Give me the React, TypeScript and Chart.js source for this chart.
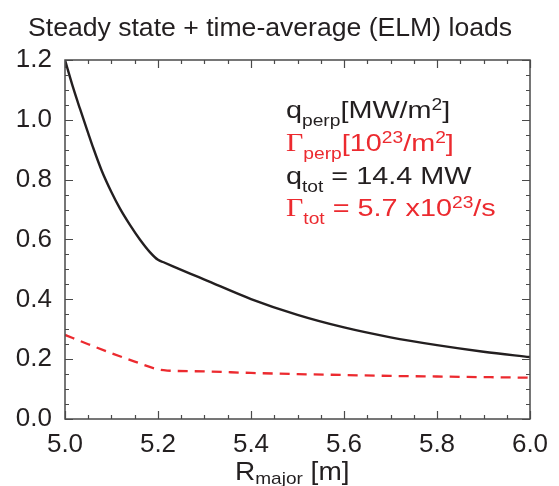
import React, { useEffect, useRef } from "react";
import { Chart, registerables } from "chart.js";

Chart.register(...registerables);

// ---------- data ----------
const TITLE = "Steady state + time-average (ELM) loads";

// black solid: q_perp [MW/m^2]
const rMajorQ = [5.0, 5.018, 5.032, 5.05, 5.061, 5.079, 5.1, 5.118, 5.14, 5.161, 5.183, 5.2, 5.212, 5.269, 5.3, 5.4, 5.5, 5.6, 5.7, 5.8, 5.9, 6.0];
const qPerp = [1.2, 1.105, 1.038, 0.955, 0.905, 0.83, 0.758, 0.704, 0.648, 0.6, 0.557, 0.532, 0.524, 0.486, 0.466, 0.401, 0.348, 0.306, 0.273, 0.247, 0.225, 0.207];

// red dashed: Gamma_perp [10^23/m^2]
const rMajorG = [5.0, 5.05, 5.1, 5.15, 5.2, 5.22, 5.3, 5.4, 5.5, 5.6, 5.7, 5.8, 5.9, 6.0];
const gammaPerp = [0.281, 0.25, 0.22, 0.192, 0.166, 0.162, 0.159, 0.154, 0.15, 0.147, 0.144, 0.142, 0.14, 0.138];

const X_MIN = 5.0;
const X_MAX = 6.0;
const Y_MIN = 0.0;
const Y_MAX = 1.2;
const MAJOR_STEP = 0.2;
const MINOR_STEP = 0.05;

const X_LABEL_MAIN = "R";
const X_LABEL_SUB = "major";
const X_LABEL_TAIL = " [m]";

// ---------- styles ----------
const INK = "#231f20";
const RED = "#ec2a2f";
const FRAME = "#4a4a4a";
const SANS = "'Liberation Sans', Arial, Helvetica, sans-serif";
const SERIF = "'Liberation Serif', 'Times New Roman', serif";

type Seg = { t: string; size: number; dy?: number; family?: string };

function drawRich(
  ctx: CanvasRenderingContext2D,
  x: number,
  y: number,
  segs: Seg[],
  color: string,
  sx: number = 1
) {
  ctx.save();
  ctx.translate(x, y);
  ctx.scale(sx, 1);
  ctx.fillStyle = color;
  ctx.textAlign = "left";
  ctx.textBaseline = "alphabetic";
  let cx = 0;
  for (const s of segs) {
    ctx.font = `${s.size}px ${s.family || SANS}`;
    ctx.fillText(s.t, cx, s.dy || 0);
    cx += ctx.measureText(s.t).width;
  }
  ctx.restore();
}

const F = 26; // tick font
const LF = 24; // legend main font
const LS = 16; // legend sub/sup font
const LSX = 1.2; // legend horizontal stretch

const decorPlugin = {
  id: "decor",
  afterDraw(chart: any) {
    const ctx: CanvasRenderingContext2D = chart.ctx;
    const { left, right, top, bottom } = chart.chartArea;
    const xs = chart.scales.x;
    const ys = chart.scales.y;

    // frame
    ctx.save();
    ctx.strokeStyle = FRAME;
    ctx.lineWidth = 1.5;
    ctx.strokeRect(left, top, right - left, bottom - top);

    // inward ticks on all four sides
    ctx.lineWidth = 1.2;
    const per = Math.round(MAJOR_STEP / MINOR_STEP);
    const nx = Math.round((X_MAX - X_MIN) / MINOR_STEP);
    for (let i = 0; i <= nx; i++) {
      const v = X_MIN + i * MINOR_STEP;
      const px = Math.round(xs.getPixelForValue(v)) + 0.5;
      const len = i % per === 0 ? 8 : 4;
      ctx.beginPath();
      ctx.moveTo(px, bottom);
      ctx.lineTo(px, bottom - len);
      ctx.moveTo(px, top);
      ctx.lineTo(px, top + len);
      ctx.stroke();
    }
    const ny = Math.round((Y_MAX - Y_MIN) / MINOR_STEP);
    for (let i = 0; i <= ny; i++) {
      const v = Y_MIN + i * MINOR_STEP;
      const py = Math.round(ys.getPixelForValue(v)) + 0.5;
      const len = i % per === 0 ? 8 : 4;
      ctx.beginPath();
      ctx.moveTo(left, py);
      ctx.lineTo(left + len, py);
      ctx.moveTo(right, py);
      ctx.lineTo(right - len, py);
      ctx.stroke();
    }
    ctx.restore();

    // title
    ctx.save();
    ctx.fillStyle = INK;
    ctx.font = `26.6px ${SANS}`;
    ctx.textAlign = "left";
    ctx.textBaseline = "alphabetic";
    ctx.fillText(TITLE, 28, 36);
    ctx.restore();

    // x axis title with subscript
    drawRich(
      ctx,
      235,
      480,
      [
        { t: X_LABEL_MAIN, size: 25 },
        { t: X_LABEL_SUB, size: 17, dy: 4 },
        { t: X_LABEL_TAIL, size: 25 },
      ],
      INK,
      1.12
    );

    // in-plot annotations
    const lx = 286;
    drawRich(
      ctx,
      lx,
      118,
      [
        { t: "q", size: LF },
        { t: "perp", size: LS, dy: 8 },
        { t: "[MW/m", size: LF },
        { t: "2", size: LS, dy: -8 },
        { t: "]", size: LF },
      ],
      INK,
      LSX
    );
    drawRich(
      ctx,
      lx,
      151,
      [
        { t: "\u0393", size: LF + 1, family: SERIF },
        { t: "perp", size: LS, dy: 8 },
        { t: "[10", size: LF },
        { t: "23", size: LS, dy: -8 },
        { t: "/m", size: LF },
        { t: "2", size: LS, dy: -8 },
        { t: "]", size: LF },
      ],
      RED,
      LSX
    );
    drawRich(
      ctx,
      lx,
      184,
      [
        { t: "q", size: LF },
        { t: "tot", size: LS, dy: 8 },
        { t: " = 14.4 MW", size: LF },
      ],
      INK,
      LSX
    );
    drawRich(
      ctx,
      lx,
      216,
      [
        { t: "\u0393", size: LF + 1, family: SERIF },
        { t: "tot", size: LS, dy: 8 },
        { t: " = 5.7 x10", size: LF },
        { t: "23", size: LS, dy: -8 },
        { t: "/s", size: LF },
      ],
      RED,
      LSX
    );
  },
};

export default function App() {
  const ref = useRef<HTMLCanvasElement | null>(null);

  useEffect(() => {
    if (!ref.current) return;
    const chart = new Chart(ref.current, {
      type: "line",
      data: {
        datasets: [
          {
            label: "q_perp",
            data: rMajorQ.map((x, i) => ({ x, y: qPerp[i] })),
            borderColor: INK,
            borderWidth: 2.4,
            pointRadius: 0,
            fill: false,
            cubicInterpolationMode: "monotone",
          },
          {
            label: "Gamma_perp",
            data: rMajorG.map((x, i) => ({ x, y: gammaPerp[i] })),
            borderColor: RED,
            borderWidth: 2.3,
            borderDash: [10, 7],
            pointRadius: 0,
            fill: false,
            cubicInterpolationMode: "monotone",
          },
        ],
      },
      options: {
        animation: false,
        responsive: false,
        devicePixelRatio: 1,
        layout: { padding: { top: 60, right: 29, left: 0, bottom: 0 } },
        plugins: {
          legend: { display: false },
          title: { display: false },
          tooltip: { enabled: false },
        },
        scales: {
          x: {
            type: "linear",
            min: X_MIN,
            max: X_MAX,
            grid: { display: false, drawTicks: false },
            border: { display: false },
            ticks: {
              stepSize: MAJOR_STEP,
              autoSkip: false,
              maxRotation: 0,
              padding: 10,
              color: INK,
              font: { family: SANS, size: F },
              callback: (v: any) => Number(v).toFixed(1),
            },
            afterFit: (s: any) => {
              s.height = 67;
            },
          },
          y: {
            type: "linear",
            min: Y_MIN,
            max: Y_MAX,
            grid: { display: false, drawTicks: false },
            border: { display: false },
            ticks: {
              stepSize: MAJOR_STEP,
              autoSkip: false,
              padding: 13,
              color: INK,
              font: { family: SANS, size: F },
              callback: (v: any) => Number(v).toFixed(1),
            },
            afterFit: (s: any) => {
              s.width = 65;
            },
          },
        },
      },
      plugins: [decorPlugin],
    } as any);
    return () => chart.destroy();
  }, []);

  return (
    <div style={{ position: "absolute", left: 0, top: 0, width: 559, height: 486, background: "#fff" }}>
      <canvas ref={ref} width={559} height={486} style={{ display: "block" }} />
    </div>
  );
}
